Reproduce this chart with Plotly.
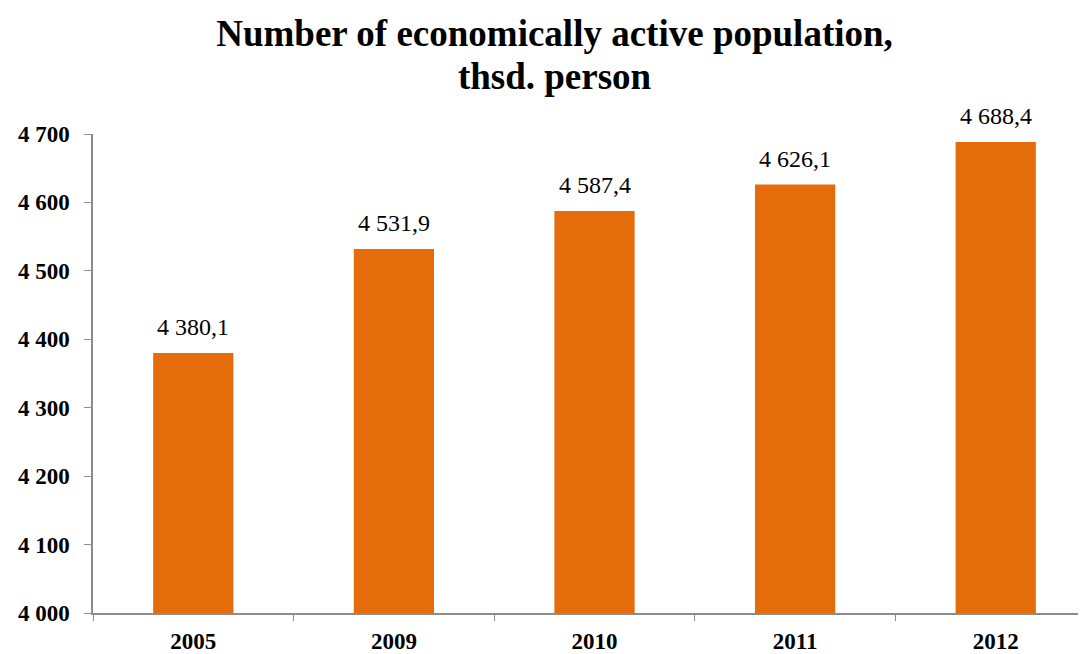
import plotly.graph_objects as go

years = ["2005", "2009", "2010", "2011", "2012"]
values = [4380.1, 4531.9, 4587.4, 4626.1, 4688.4]
y_ticks = [4000, 4100, 4200, 4300, 4400, 4500, 4600, 4700]
title_lines = ["Number of economically active population,", "thsd. person"]

serif = "Liberation Serif"
title_text = "<br>".join(f'<span style="font-size:37px">{t}</span>' for t in title_lines)

fig = go.Figure(go.Bar(
    x=years, y=values,
    marker=dict(color="#E46C0A", line=dict(width=0)),
    width=0.4,
    hoverinfo="skip",
))

for i, v in enumerate(values):
    fig.add_annotation(
        x=i, y=v, xref="x", yref="y",
        text=f"{v:,.1f}".replace(",", " ").replace(".", ","),
        showarrow=False, yanchor="bottom", yshift=11,
        font=dict(family=serif, size=24, color="#000000"),
    )

fig.update_layout(
    width=1078, height=646,
    margin=dict(l=85, r=0, t=126, b=41),
    paper_bgcolor="white", plot_bgcolor="white",
    separators=", ",
    showlegend=False,
    title=dict(text=title_text, x=0.507, xanchor="center", yref="container",
               y=0.941, yanchor="middle",
               font=dict(family=serif, size=33, color="#000000", weight="bold")),
    xaxis=dict(
        type="category", range=[-0.5, 4.45],
        showline=True, linecolor="#8C8C8C", linewidth=1.5,
        ticks="outside", tickson="boundaries", ticklen=6, tickcolor="#8C8C8C",
        ticklabelstandoff=7,
        tickfont=dict(family=serif, size=23, color="#000000", weight="bold"),
        showgrid=False, zeroline=False,
    ),
    yaxis=dict(
        range=[4000, 4700], tickvals=y_ticks, tickformat=",d",
        showline=True, linecolor="#8C8C8C", linewidth=1.5,
        ticks="outside", ticklen=7, tickcolor="#8C8C8C",
        ticklabelstandoff=10,
        tickfont=dict(family=serif, size=23, color="#000000", weight="bold"),
        showgrid=False, zeroline=False,
    ),
)

fig.write_html("out.html")
